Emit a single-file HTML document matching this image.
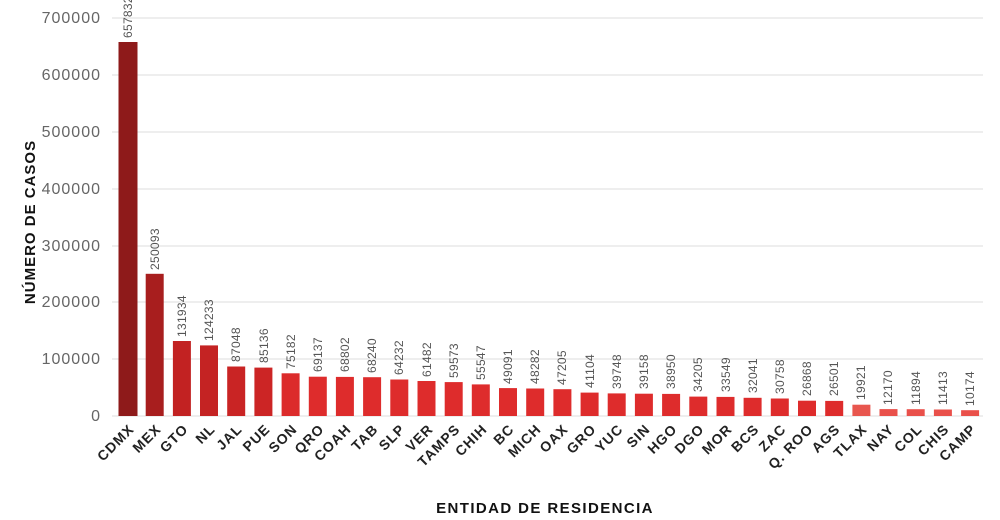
<!DOCTYPE html>
<html><head><meta charset="utf-8"><style>
html,body{margin:0;padding:0;background:#fff;}
svg{display:block;font-family:"Liberation Sans",sans-serif;}
.t{font-size:16px;fill:#666;text-anchor:end;letter-spacing:1px;}
.v{font-size:12px;fill:#555;letter-spacing:0.3px;}
.c{font-size:14px;font-weight:bold;fill:#222;text-anchor:end;letter-spacing:1px;}
</style></head><body>
<svg width="1000" height="520" viewBox="0 0 1000 520">
<g stroke="#e8e8e8" stroke-width="1.5">
<line x1="112" y1="18" x2="983" y2="18"/><line x1="112" y1="75" x2="983" y2="75"/>
<line x1="112" y1="132" x2="983" y2="132"/><line x1="112" y1="189" x2="983" y2="189"/>
<line x1="112" y1="246" x2="983" y2="246"/><line x1="112" y1="302" x2="983" y2="302"/>
<line x1="112" y1="359" x2="983" y2="359"/><line x1="112" y1="416" x2="983" y2="416"/>
</g>
<g class="t">
<text x="101" y="23">700000</text><text x="101" y="80">600000</text>
<text x="101" y="137">500000</text><text x="101" y="194">400000</text>
<text x="101" y="251">300000</text><text x="101" y="307">200000</text>
<text x="101" y="364">100000</text><text x="101" y="421">0</text>
</g>
<text transform="translate(35,222) rotate(-90)" text-anchor="middle" style="font-size:15px;font-weight:bold;fill:#111;letter-spacing:1px">NÚMERO DE CASOS</text>
<text x="545" y="513" text-anchor="middle" style="font-size:15px;font-weight:bold;fill:#111;letter-spacing:1.4px">ENTIDAD DE RESIDENCIA</text>
<g>
<rect x="118.5" y="42" width="19" height="374" fill="#8e1a1a"/>
<rect x="145.7" y="273.8" width="18" height="142.2" fill="#a81e1e"/>
<rect x="172.9" y="341" width="18" height="75" fill="#c22222"/>
<rect x="200" y="345.4" width="18" height="70.6" fill="#c42323"/>
<rect x="227.2" y="366.5" width="18" height="49.5" fill="#c92424"/>
<rect x="254.4" y="367.6" width="18" height="48.4" fill="#cc2525"/>
<rect x="281.6" y="373.3" width="18" height="42.7" fill="#dc2b2b"/>
<rect x="308.8" y="376.7" width="18" height="39.3" fill="#de2c2c"/>
<rect x="335.9" y="376.9" width="18" height="39.1" fill="#de2c2c"/>
<rect x="363.1" y="377.2" width="18" height="38.8" fill="#de2c2c"/>
<rect x="390.3" y="379.5" width="18" height="36.5" fill="#de2c2c"/>
<rect x="417.5" y="381" width="18" height="35" fill="#de2c2c"/>
<rect x="444.7" y="382.1" width="18" height="33.9" fill="#de2c2c"/>
<rect x="471.8" y="384.4" width="18" height="31.6" fill="#de2c2c"/>
<rect x="499" y="388.1" width="18" height="27.9" fill="#de2c2c"/>
<rect x="526.2" y="388.5" width="18" height="27.5" fill="#de2c2c"/>
<rect x="553.4" y="389.2" width="18" height="26.8" fill="#de2c2c"/>
<rect x="580.6" y="392.6" width="18" height="23.4" fill="#de2c2c"/>
<rect x="607.7" y="393.4" width="18" height="22.6" fill="#de2c2c"/>
<rect x="634.9" y="393.7" width="18" height="22.3" fill="#de2c2c"/>
<rect x="662.1" y="393.9" width="18" height="22.1" fill="#de2c2c"/>
<rect x="689.3" y="396.6" width="18" height="19.4" fill="#de2c2c"/>
<rect x="716.5" y="396.9" width="18" height="19.1" fill="#de2c2c"/>
<rect x="743.6" y="397.8" width="18" height="18.2" fill="#de2c2c"/>
<rect x="770.8" y="398.5" width="18" height="17.5" fill="#de2c2c"/>
<rect x="798" y="400.7" width="18" height="15.3" fill="#de2c2c"/>
<rect x="825.2" y="400.9" width="18" height="15.1" fill="#de2c2c"/>
<rect x="852.4" y="404.7" width="18" height="11.3" fill="#e8564e"/>
<rect x="879.5" y="409.1" width="18" height="6.9" fill="#e9504a"/>
<rect x="906.7" y="409.2" width="18" height="6.8" fill="#e9504a"/>
<rect x="933.9" y="409.5" width="18" height="6.5" fill="#e9504a"/>
<rect x="961.1" y="410.2" width="18" height="5.8" fill="#e9504a"/>
</g>
<g class="v">
<text transform="translate(132,38) rotate(-90)">657832</text>
<text transform="translate(159,270) rotate(-90)">250093</text>
<text transform="translate(186,337) rotate(-90)">131934</text>
<text transform="translate(213,341) rotate(-90)">124233</text>
<text transform="translate(240,362) rotate(-90)">87048</text>
<text transform="translate(268,363) rotate(-90)">85136</text>
<text transform="translate(295,369) rotate(-90)">75182</text>
<text transform="translate(322,372) rotate(-90)">69137</text>
<text transform="translate(349,372) rotate(-90)">68802</text>
<text transform="translate(376,373) rotate(-90)">68240</text>
<text transform="translate(403,375) rotate(-90)">64232</text>
<text transform="translate(431,377) rotate(-90)">61482</text>
<text transform="translate(458,378) rotate(-90)">59573</text>
<text transform="translate(485,380) rotate(-90)">55547</text>
<text transform="translate(512,384) rotate(-90)">49091</text>
<text transform="translate(539,384) rotate(-90)">48282</text>
<text transform="translate(566,385) rotate(-90)">47205</text>
<text transform="translate(594,388) rotate(-90)">41104</text>
<text transform="translate(621,389) rotate(-90)">39748</text>
<text transform="translate(648,389) rotate(-90)">39158</text>
<text transform="translate(675,389) rotate(-90)">38950</text>
<text transform="translate(702,392) rotate(-90)">34205</text>
<text transform="translate(730,392) rotate(-90)">33549</text>
<text transform="translate(757,393) rotate(-90)">32041</text>
<text transform="translate(784,394) rotate(-90)">30758</text>
<text transform="translate(811,396) rotate(-90)">26868</text>
<text transform="translate(838,396) rotate(-90)">26501</text>
<text transform="translate(865,400) rotate(-90)">19921</text>
<text transform="translate(892,405) rotate(-90)">12170</text>
<text transform="translate(920,405) rotate(-90)">11894</text>
<text transform="translate(947,405) rotate(-90)">11413</text>
<text transform="translate(974,406) rotate(-90)">10174</text>
</g>
<g class="c">
<text transform="translate(135,430) rotate(-45)">CDMX</text>
<text transform="translate(162,430) rotate(-45)">MEX</text>
<text transform="translate(189,430) rotate(-45)">GTO</text>
<text transform="translate(216,430) rotate(-45)">NL</text>
<text transform="translate(243,430) rotate(-45)">JAL</text>
<text transform="translate(271,430) rotate(-45)">PUE</text>
<text transform="translate(298,430) rotate(-45)">SON</text>
<text transform="translate(325,430) rotate(-45)">QRO</text>
<text transform="translate(352,430) rotate(-45)">COAH</text>
<text transform="translate(379,430) rotate(-45)">TAB</text>
<text transform="translate(406,430) rotate(-45)">SLP</text>
<text transform="translate(434,430) rotate(-45)">VER</text>
<text transform="translate(461,430) rotate(-45)">TAMPS</text>
<text transform="translate(488,430) rotate(-45)">CHIH</text>
<text transform="translate(515,430) rotate(-45)">BC</text>
<text transform="translate(542,430) rotate(-45)">MICH</text>
<text transform="translate(569,430) rotate(-45)">OAX</text>
<text transform="translate(597,430) rotate(-45)">GRO</text>
<text transform="translate(624,430) rotate(-45)">YUC</text>
<text transform="translate(651,430) rotate(-45)">SIN</text>
<text transform="translate(678,430) rotate(-45)">HGO</text>
<text transform="translate(705,430) rotate(-45)">DGO</text>
<text transform="translate(733,430) rotate(-45)">MOR</text>
<text transform="translate(760,430) rotate(-45)">BCS</text>
<text transform="translate(787,430) rotate(-45)">ZAC</text>
<text transform="translate(814,430) rotate(-45)">Q. ROO</text>
<text transform="translate(841,430) rotate(-45)">AGS</text>
<text transform="translate(868,430) rotate(-45)">TLAX</text>
<text transform="translate(895,430) rotate(-45)">NAY</text>
<text transform="translate(923,430) rotate(-45)">COL</text>
<text transform="translate(950,430) rotate(-45)">CHIS</text>
<text transform="translate(977,430) rotate(-45)">CAMP</text>
</g>
</svg>
</body></html>
